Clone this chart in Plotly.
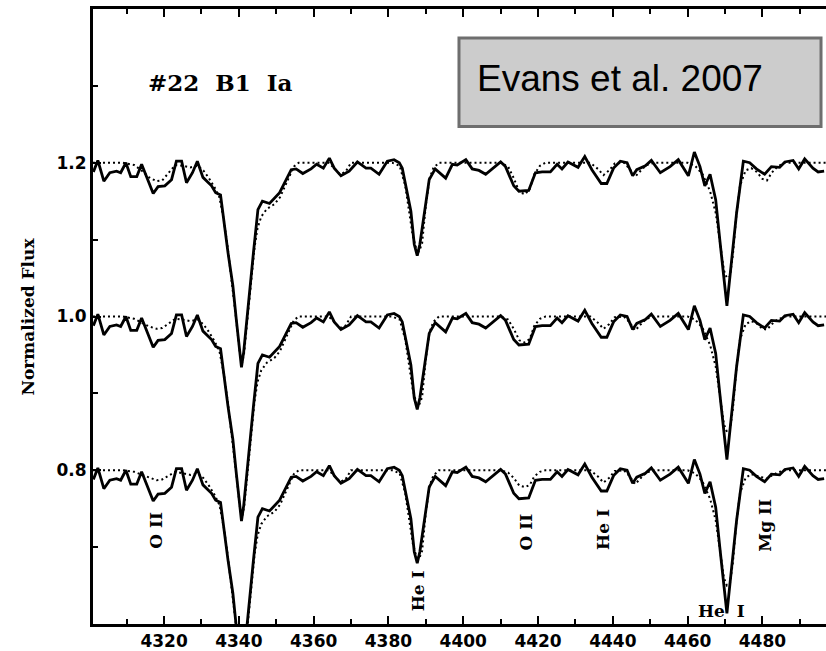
import plotly.graph_objects as go

# Observed spectrum (normalized, continuum = 1)
obs_wave = [4301.1, 4302.3, 4303.9, 4305.5, 4307.3, 4308.4, 4309.8, 4311.1, 4312.7, 4314.0,
            4315.3, 4317.1, 4318.4, 4320.2, 4322.0, 4323.3, 4324.7, 4326.0, 4327.6, 4328.9,
            4330.4, 4332.7, 4333.8, 4335.1, 4337.1, 4338.4, 4339.3, 4340.2, 4340.7, 4341.3,
            4342.1, 4343.1, 4343.9, 4344.7, 4345.1, 4346.3, 4346.9, 4348.2, 4350.9, 4354.0,
            4355.3, 4357.1, 4359.3, 4360.8, 4362.6, 4364.2, 4365.5, 4367.3, 4369.5, 4371.7,
            4374.0, 4375.3, 4377.5, 4379.7, 4381.5, 4382.9, 4383.7, 4386.0, 4386.9, 4387.3,
            4387.7, 4388.4, 4389.6, 4390.9, 4392.5, 4395.3, 4397.1, 4398.4, 4400.7, 4402.4,
            4404.2, 4406.0, 4410.0, 4411.3, 4413.5, 4414.9, 4417.5, 4419.3, 4421.1, 4423.3,
            4425.1, 4426.4, 4428.0, 4430.7, 4432.5, 4434.4, 4436.9, 4438.4, 4440.2, 4442.0,
            4443.8, 4445.3, 4446.4, 4448.7, 4450.3, 4452.7, 4455.3, 4457.5, 4460.2, 4461.8,
            4463.3, 4464.6, 4466.0, 4467.5, 4468.6, 4469.5, 4470.5, 4471.7, 4473.1, 4474.9,
            4476.6, 4478.4, 4480.6, 4482.4, 4484.6, 4486.0, 4488.2, 4489.7, 4491.3, 4493.5,
            4494.9, 4496.5]
obs_flux = [0.988, 1.003, 0.976, 0.987, 0.989, 0.987, 1.000, 0.982, 0.982, 0.998,
            0.982, 0.960, 0.969, 0.970, 0.978, 1.002, 1.002, 0.974, 0.987, 1.002,
            0.981, 0.970, 0.961, 0.958, 0.883, 0.840, 0.797, 0.754, 0.734, 0.754,
            0.797, 0.840, 0.883, 0.920, 0.939, 0.950, 0.949, 0.947, 0.961, 0.991,
            0.992, 0.986, 0.992, 0.998, 0.993, 1.006, 0.993, 0.983, 0.989, 1.001,
            0.993, 0.993, 0.985, 1.002, 1.004, 1.000, 0.993, 0.937, 0.894, 0.888,
            0.879, 0.894, 0.933, 0.978, 0.992, 0.980, 0.998, 0.997, 1.004, 0.992,
            0.990, 0.985, 1.001, 0.995, 0.970, 0.963, 0.964, 0.987, 0.988, 0.988,
            0.998, 0.992, 1.001, 0.994, 1.008, 0.991, 0.973, 0.973, 0.993, 1.002,
            1.000, 0.983, 0.991, 0.996, 1.003, 0.987, 0.995, 1.004, 0.983, 1.014,
            0.995, 0.970, 0.985, 0.952, 0.900, 0.857, 0.814, 0.870, 0.935, 1.002,
            1.000, 0.992, 0.985, 0.995, 0.994, 1.001, 1.003, 0.992, 1.005, 0.993,
            0.988, 0.989]

# Model spectra (three models)
model_wave = [4301.0, 4309.0, 4312.0, 4314.0, 4316.0, 4318.0, 4319.5, 4321.0, 4323.0, 4325.0,
              4327.0, 4329.0, 4330.5, 4332.0, 4333.5, 4334.8, 4336.0, 4337.0, 4338.2, 4339.2,
              4340.2, 4340.8, 4341.4, 4342.4, 4343.4, 4344.2, 4345.0, 4346.0, 4347.5, 4349.5,
              4351.0, 4352.7, 4354.7, 4356.0, 4364.0, 4365.5, 4367.0, 4368.5, 4370.0, 4381.0,
              4383.0, 4384.5, 4385.5, 4386.5, 4387.5, 4388.2, 4389.0, 4390.0, 4391.0, 4392.0,
              4393.5, 4410.0, 4412.0, 4413.5, 4415.0, 4416.5, 4417.8, 4419.0, 4420.5, 4422.0,
              4434.0, 4436.0, 4437.5, 4439.0, 4440.5, 4443.0, 4444.5, 4446.0, 4447.5, 4449.0,
              4451.0, 4460.0, 4462.0, 4464.0, 4466.0, 4467.5, 4468.7, 4469.7, 4470.5, 4471.3,
              4472.1, 4473.0, 4474.0, 4475.5, 4477.0, 4478.5, 4480.0, 4481.2, 4482.5, 4484.0,
              4486.0, 4497.0]
model_top = [1.000, 1.000, 0.997, 0.990, 0.981, 0.976, 0.977, 0.985, 0.997, 0.996,
             0.994, 0.996, 0.990, 0.980, 0.968, 0.955, 0.925, 0.890, 0.845, 0.800,
             0.755, 0.738, 0.752, 0.800, 0.850, 0.890, 0.915, 0.930, 0.940, 0.946,
             0.955, 0.974, 0.995, 1.000, 1.000, 0.993, 0.985, 0.988, 1.000, 1.000,
             0.996, 0.970, 0.937, 0.905, 0.887, 0.885, 0.895, 0.945, 0.980, 0.993,
             1.000, 1.000, 0.995, 0.980, 0.962, 0.959, 0.966, 0.985, 0.996, 1.000,
             1.000, 0.992, 0.984, 0.990, 0.999, 1.000, 0.992, 0.982, 0.990, 0.997,
             1.000, 1.000, 0.996, 0.985, 0.963, 0.935, 0.895, 0.860, 0.850, 0.852,
             0.880, 0.930, 0.970, 0.990, 0.993, 0.988, 0.979, 0.977, 0.987, 0.995,
             1.000, 1.000]
model_mid = [1.000, 1.000, 0.997, 0.992, 0.987, 0.984, 0.985, 0.990, 0.997, 0.996,
             0.994, 0.996, 0.990, 0.980, 0.968, 0.955, 0.925, 0.890, 0.845, 0.800,
             0.755, 0.738, 0.752, 0.800, 0.850, 0.890, 0.915, 0.930, 0.940, 0.946,
             0.955, 0.974, 0.995, 1.000, 1.000, 0.993, 0.985, 0.988, 1.000, 1.000,
             0.996, 0.970, 0.937, 0.905, 0.887, 0.885, 0.895, 0.945, 0.980, 0.993,
             1.000, 1.000, 0.996, 0.984, 0.969, 0.966, 0.971, 0.988, 0.997, 1.000,
             1.000, 0.992, 0.984, 0.990, 0.999, 1.000, 0.992, 0.982, 0.990, 0.997,
             1.000, 1.000, 0.996, 0.985, 0.963, 0.935, 0.895, 0.860, 0.850, 0.852,
             0.880, 0.930, 0.970, 0.990, 0.994, 0.991, 0.984, 0.983, 0.990, 0.996,
             1.000, 1.000]
model_bot = [1.000, 1.000, 0.998, 0.994, 0.990, 0.987, 0.988, 0.992, 0.998, 0.996,
             0.994, 0.996, 0.990, 0.980, 0.968, 0.955, 0.925, 0.890, 0.845, 0.800,
             0.755, 0.738, 0.752, 0.800, 0.850, 0.890, 0.915, 0.930, 0.940, 0.946,
             0.955, 0.974, 0.995, 1.000, 1.000, 0.993, 0.985, 0.988, 1.000, 1.000,
             0.996, 0.970, 0.937, 0.905, 0.887, 0.885, 0.895, 0.945, 0.980, 0.993,
             1.000, 1.000, 0.997, 0.990, 0.980, 0.978, 0.981, 0.992, 0.998, 1.000,
             1.000, 0.992, 0.984, 0.990, 0.999, 1.000, 0.992, 0.982, 0.990, 0.997,
             1.000, 1.000, 0.996, 0.985, 0.963, 0.935, 0.895, 0.860, 0.850, 0.852,
             0.880, 0.930, 0.970, 0.990, 0.995, 0.993, 0.990, 0.989, 0.993, 0.997,
             1.000, 1.000]

models = [model_top, model_mid, model_bot]
offsets = [0.2, 0.0, -0.2]

x_tickvals = [4320, 4340, 4360, 4380, 4400, 4420, 4440, 4460, 4480]
y_tickvals = [0.8, 1.0, 1.2]
y_ticktext = ["0.8", "1.0", "1.2"]

fig = go.Figure()
for model, off in zip(models, offsets):
    fig.add_trace(go.Scatter(x=model_wave, y=[v + off for v in model], mode="lines",
                             line=dict(color="black", width=2, dash="2px,3px"),
                             showlegend=False, hoverinfo="skip"))
    fig.add_trace(go.Scatter(x=obs_wave, y=[v + off for v in obs_flux], mode="lines",
                             line=dict(color="black", width=2.8),
                             showlegend=False, hoverinfo="skip"))

serif = "DejaVu Serif"
label_font = dict(family=serif, size=17, color="black", weight="bold")
annotations = [
    dict(x=4318, y=0.722, text="O II", textangle=-90),
    dict(x=4388, y=0.643, text="He I", textangle=-90),
    dict(x=4416.7, y=0.720, text="O II", textangle=-90),
    dict(x=4437.5, y=0.723, text="He I", textangle=-90),
    dict(x=4480.7, y=0.728, text="Mg II", textangle=-90),
    dict(x=4469, y=0.617, text="He\u00a0\u00a0I", textangle=0),
]
anns = []
for a in annotations:
    a.update(xref="x", yref="y", showarrow=False, font=label_font,
             xanchor="center", yanchor="middle")
    anns.append(a)

anns.append(dict(x=4335, y=1.305, xref="x", yref="y", text="#22\u00a0\u00a0B1\u00a0\u00a0Ia",
                 showarrow=False, font=dict(family=serif, size=23, color="black", weight="bold"),
                 xanchor="center", yanchor="middle"))
anns.append(dict(x=-0.090, y=0.5, xref="paper", yref="paper", text="Normalized Flux",
                 textangle=-90, showarrow=False,
                 font=dict(family=serif, size=17, color="black", weight="bold"),
                 xanchor="center", yanchor="middle"))
anns.append(dict(x=0.5211, y=0.8865, xref="paper", yref="paper", text="Evans et al. 2007",
                 showarrow=False, font=dict(family="Liberation Sans, Arial", size=37, color="black"),
                 xanchor="left", yanchor="middle"))

shapes = [dict(type="rect", xref="paper", yref="paper", x0=0.4993, x1=0.9932, y0=0.8088, y1=0.9530,
               fillcolor="#cccccc", line=dict(color="#6e6e6e", width=3), layer="above")]

tickfont = dict(family="DejaVu Sans", size=17, color="black", weight="bold")
fig.update_layout(
    width=826, height=651,
    margin=dict(l=93, r=0, t=9, b=25),
    paper_bgcolor="white", plot_bgcolor="white",
    annotations=anns, shapes=shapes,
    xaxis=dict(range=[4301, 4497], tickvals=x_tickvals, ticks="inside", ticklen=8,
               tickwidth=2, tickcolor="black", showline=True, linewidth=3, linecolor="black",
               mirror="ticks", showgrid=False, zeroline=False, tickfont=tickfont,
               minor=dict(dtick=10, tick0=4300, ticks="inside", ticklen=5, tickwidth=2,
                          tickcolor="black", showgrid=False)),
    yaxis=dict(range=[0.6, 1.4], tickvals=y_tickvals, ticktext=y_ticktext, ticks="inside",
               ticklen=8, tickwidth=2, tickcolor="black", showline=True, linewidth=3,
               linecolor="black", mirror=False, showgrid=False, zeroline=False,
               tickfont=tickfont,
               minor=dict(tickvals=[0.7, 0.9, 1.1, 1.3], ticks="inside", ticklen=5,
                          tickwidth=2, tickcolor="black", showgrid=False)),
)

fig.write_html("out.html")
